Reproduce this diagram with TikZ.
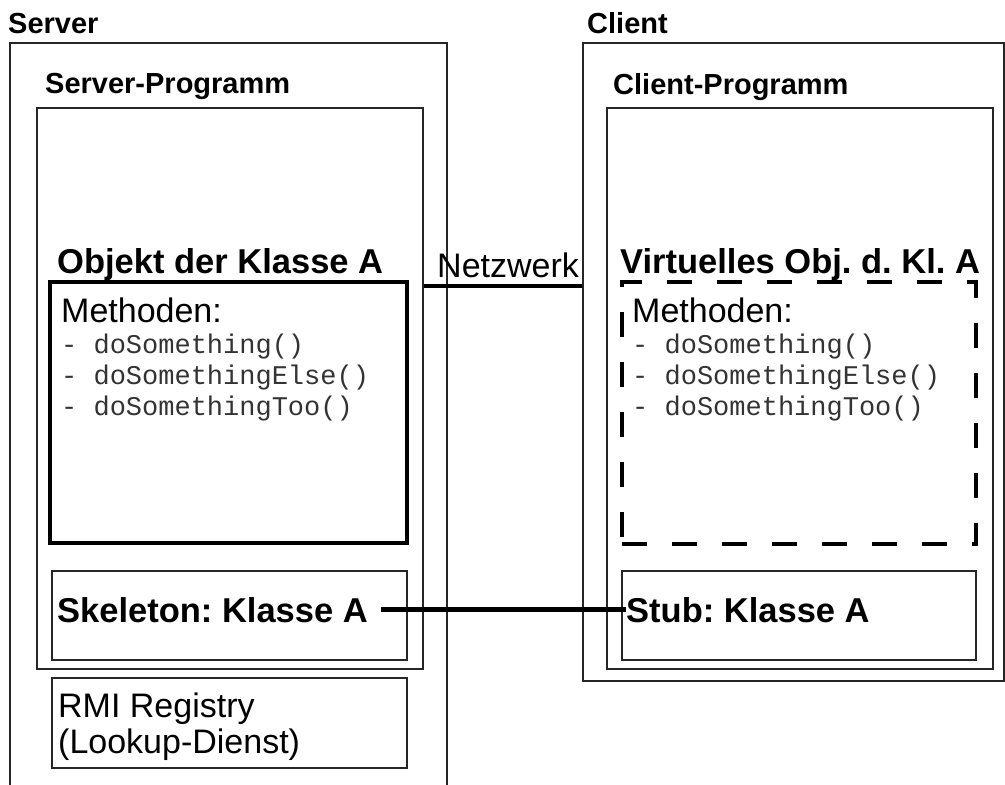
\documentclass[tikz,border=0pt]{standalone}
\usepackage{fontspec}
\setmainfont{Liberation Sans}
\setmonofont{Liberation Mono}
\usetikzlibrary{positioning}
\frenchspacing

\tikzset{
  box/.style={draw=black!85, line width=1.3pt, inner sep=0pt},
  objbox/.style={draw, line width=4pt, inner sep=0pt},
  virtbox/.style={objbox, line width=4.5pt, dash pattern=on 25pt off 25pt},
  title/.style={font=\fontsize{29}{34}\bfseries\selectfont, anchor=base west, inner sep=0pt},
  head/.style={font=\fontsize{34.5}{40}\bfseries\selectfont, anchor=base west, inner sep=0pt},
  plain/.style={font=\fontsize{34}{36}\selectfont, anchor=base west, inner sep=0pt},
  meth/.style={font=\fontsize{27}{31}\ttfamily\selectfont, text=black!80, anchor=base west, inner sep=0pt},
  link/.style={line width=4.5pt}
}

\begin{document}
\begin{tikzpicture}[x=1pt,y=-1pt]
  \useasboundingbox (0,0) rectangle (1005,785);

  % Server side
  \node[title] (server) at (8,33) {Server};
  \draw[draw=black!85, line width=1.3pt] (10,785) -- (10,43) -- (447,43) -- (447,785);
  \node[box, minimum width=386pt, minimum height=561pt] (sprog) at (230,388.5) {};
  \node[title] (sprogt) at (45,93) {Server-Programm};
  \node[objbox, minimum width=357pt, minimum height=261pt] (sobj) at (228.5,412.5) {};
  \node[head] (sobjt) at (57,273) {Objekt der Klasse A};
  \node[plain] (smeth) at (61,322) {Methoden:};
  \foreach \m [count=\i] in {doSomething(), doSomethingElse(), doSomethingToo()}
    \node[meth] (sm\i) at (61,322+31*\i) {- \m};
  \node[box, minimum width=355pt, minimum height=89pt] (skel) at (229.5,615.5) {};
  \node[head] (skelt) at (57,622) {Skeleton: Klasse A};
  \node[box, minimum width=355pt, minimum height=90pt] (rmi) at (229.5,723) {};
  \node[plain] (rmit) at (58,717) {RMI Registry};
  \node[plain] (rmit2) at (58,753) {(Lookup-Dienst)};

  % Client side
  \node[title] (client) at (587,33) {Client};
  \node[box, minimum width=421pt, minimum height=638pt] (cbox) at (793.5,362) {};
  \node[box, minimum width=386pt, minimum height=561pt] (cprog) at (800,388.5) {};
  \node[title] (cprogt) at (613,94) {Client-Programm};
  \node[virtbox, minimum width=354pt, minimum height=262pt] (cobj) at (799,413) {};
  \node[head] (cobjt) at (620,273) {Virtuelles Obj. d. Kl. A};
  \node[plain] (cmeth) at (632,322) {Methoden:};
  \foreach \m [count=\i] in {doSomething(), doSomethingElse(), doSomethingToo()}
    \node[meth] (cm\i) at (632,322+31*\i) {- \m};
  \node[box, minimum width=354pt, minimum height=89pt] (stub) at (799,615.5) {};
  \node[head] (stubt) at (626,622) {Stub: Klasse A};

  % Netzwerk
  \node[plain] (netz) at (437,277) {Netzwerk};
  \draw[link] (sprog.east |- 0,286) -- (cbox.west |- 0,286);
  \draw[link] ([xshift=13pt]skelt.east) -- (stubt.west);
\end{tikzpicture}
\end{document}
